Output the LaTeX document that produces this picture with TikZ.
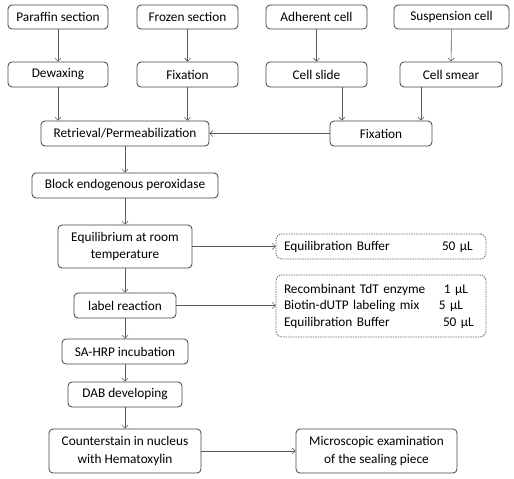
\documentclass[tikz,border=0pt]{standalone}
\usepackage{fontspec}
\setmainfont{Carlito}
\usetikzlibrary{arrows.meta,calc}
\tikzset{
  box/.style={draw=black!75, line width=0.8pt, rounded corners=4pt, inner sep=1pt, align=center, font=\fontsize{13.3}{17.5}\selectfont},
  dbox/.style={draw=black!60, line width=0.8pt, dash pattern=on 1.5pt off 1pt, rounded corners=6pt, inner sep=0pt, align=left, font=\fontsize{13.3}{16.5}\selectfont},
  arr/.style={draw=black!65, line width=0.6pt, -{Straight Barb[length=3pt,width=6pt]}}
}
\newcommand\amt[2]{\makebox[158pt][l]{#1}#2}
\begin{document}
\begin{tikzpicture}[x=1pt,y=-1pt]
\useasboundingbox (0,0) rectangle (514,479);
% row 1
\node[box, minimum width=100pt, minimum height=24pt] (par) at (58,17) {Paraffin section};
\node[box, minimum width=101pt, minimum height=24pt] (fro) at (187.5,17) {Frozen section};
\node[box, minimum width=101pt, minimum height=24pt] (adh) at (316.5,17) {Adherent cell};
\node[box, minimum width=115pt, minimum height=24pt] (sus) at (451.5,17) {Suspension cell};
% row 2
\node[box, minimum width=100pt, minimum height=25pt] (dew) at (58,74.5) {Dewaxing};
\node[box, minimum width=101pt, minimum height=25pt] (fix) at (187.5,74.5) {Fixation};
\node[box, minimum width=101pt, minimum height=25pt] (sli) at (316.5,74.5) {Cell slide};
\node[box, minimum width=102pt, minimum height=25pt] (sme) at (451,74.5) {Cell smear};
% row 3
\node[box, minimum width=168pt, minimum height=25pt] (ret) at (125,133.5) {Retrieval/Permeabilization};
\node[box, minimum width=102pt, minimum height=25pt] (fixb) at (381,133.5) {Fixation};
% main chain
\node[box, minimum width=186pt, minimum height=25pt] (blo) at (125,185.5) {Block endogenous peroxidase};
\node[box, minimum width=134pt, minimum height=43pt] (equ) at (125,246.5) {Equilibrium at room\\temperature};
\node[dbox, minimum width=210pt, minimum height=25pt, text width=194pt] (buf) at (381,246.5) {\amt{Equilibration Buffer}{50 µL}};
\node[box, minimum width=102pt, minimum height=25pt] (lab) at (125,305.5) {label reaction};
\node[dbox, minimum width=210pt, minimum height=62pt, text width=194pt] (mix) at (381,306) {%
\amt{Recombinant TdT enzyme}{\hspace{2pt}1 µL}\\
\amt{Biotin-dUTP labeling mix}{\hspace{-3pt}5 µL}\\
\amt{Equilibration Buffer}{\hspace{1pt}50 µL}};
\node[box, minimum width=126pt, minimum height=25pt] (sah) at (125,351.5) {SA-HRP incubation};
\node[box, minimum width=114pt, minimum height=25pt] (dab) at (125,394.5) {DAB developing};
\node[box, minimum width=152pt, minimum height=44pt] (cou) at (125,451) {Counterstain in nucleus\\with Hematoxylin};
\node[box, minimum width=161pt, minimum height=44pt] (mic) at (376.5,451) {Microscopic examination\\of the sealing piece};
% arrows
\draw[arr] (par) -- (dew);
\draw[arr] (fro) -- (fix);
\draw[arr] (adh) -- (sli);
\draw[arr] (sus) -- (sme);
\draw[arr] (dew.south) -- (dew.south |- ret.north);
\draw[arr] (fix.south) -- (fix.south |- ret.north);
\draw[arr] ([xshift=25.5pt]sli.south) -- ([xshift=25.5pt]sli.south |- fixb.north);
\draw[arr] ([xshift=-30pt]sme.south) -- ([xshift=-30pt]sme.south |- fixb.north);
\draw[arr] (fixb) -- (ret);
\draw[arr] (ret) -- (blo);
\draw[arr] (blo) -- (equ);
\draw[arr] (equ) -- (buf);
\draw[arr] (equ) -- (lab);
\draw[arr] (lab.east) -- (lab.east -| mix.west);
\draw[arr] (lab) -- (sah);
\draw[arr] (sah) -- (dab);
\draw[arr] (dab) -- (cou);
\draw[arr] (cou) -- (mic);
\end{tikzpicture}
\end{document}
